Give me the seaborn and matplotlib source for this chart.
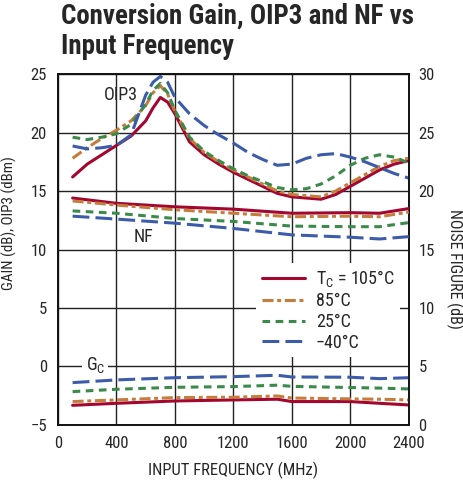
import numpy as np
import pandas as pd
import matplotlib
matplotlib.use("Agg")
import matplotlib.pyplot as plt
from matplotlib.lines import Line2D
import seaborn as sns

# ---- data ----
TEMPS = ["105", "85", "25", "-40"]
LEGEND_LABELS = ["T$_\\mathregular{C}$ = 105°C", "85°C", "25°C", "−40°C"]

FREQ_OIP3 = [100, 200, 300, 400, 500, 600, 650, 700, 750, 800, 900, 1000, 1100,
             1200, 1300, 1400, 1500, 1600, 1700, 1800, 1900, 2000, 2100, 2200, 2300, 2400]
OIP3_105 = [16.2, 17.3, 18.1, 18.9, 19.7, 21.0, 22.1, 23.0, 22.6, 21.6, 19.2, 18.1, 17.3,
            16.6, 16.0, 15.4, 14.8, 14.5, 14.4, 14.3, 14.7, 15.4, 16.1, 16.8, 17.3, 17.6]
OIP3_85 = [17.8, 18.7, 19.5, 20.2, 21.0, 22.3, 23.4, 24.0, 23.3, 21.8, 19.5, 18.3, 17.5,
           16.8, 16.2, 15.6, 15.0, 14.7, 14.6, 14.5, 15.0, 15.7, 16.4, 17.1, 17.6, 17.8]
OIP3_25 = [19.6, 19.4, 19.6, 19.9, 20.7, 22.4, 23.6, 24.2, 23.4, 21.9, 19.6, 18.4, 17.6,
           16.9, 16.3, 15.8, 15.3, 15.1, 15.2, 15.6, 16.3, 17.2, 17.8, 18.1, 17.9, 17.4]
OIP3_M40 = [18.85, 18.6, 18.7, 18.9, 19.8, 23.2, 24.3, 24.8, 24.3, 23.0, 21.6, 20.6, 19.8,
            19.1, 18.3, 17.7, 17.2, 17.3, 17.8, 18.1, 18.2, 17.9, 17.5, 17.0, 16.5, 16.1]

FREQ_NF = [100, 400, 800, 1200, 1600, 2000, 2200, 2400]
NF_105 = [19.4, 18.95, 18.65, 18.45, 18.1, 18.15, 18.1, 18.5]
NF_85 = [19.15, 18.8, 18.4, 18.1, 17.8, 17.85, 17.8, 18.2]
NF_25 = [18.3, 18.1, 17.65, 17.4, 17.0, 16.95, 16.95, 17.3]
NF_M40 = [17.85, 17.6, 17.25, 16.8, 16.25, 16.05, 15.9, 16.1]

FREQ_GC = [100, 400, 800, 1200, 1500, 1600, 2000, 2200, 2400]
GC_105 = [-3.32, -3.15, -2.95, -2.86, -2.8, -3.0, -3.0, -3.15, -3.29]
GC_85 = [-3.0, -2.86, -2.66, -2.63, -2.52, -2.7, -2.77, -2.8, -2.86]
GC_25 = [-2.15, -1.95, -1.78, -1.72, -1.6, -1.7, -1.8, -1.85, -1.92]
GC_M40 = [-1.38, -1.15, -0.96, -0.87, -0.75, -0.9, -0.92, -1.04, -0.96]


def long_df(freq, series):
    rows = []
    for t, vals in zip(TEMPS, series):
        rows += [{"freq": f, "val": v, "temp": t} for f, v in zip(freq, vals)]
    return pd.DataFrame(rows)


oip3 = long_df(FREQ_OIP3, [OIP3_105, OIP3_85, OIP3_25, OIP3_M40])
nf = long_df(FREQ_NF, [NF_105, NF_85, NF_25, NF_M40])
gc = long_df(FREQ_GC, [GC_105, GC_85, GC_25, GC_M40])

COLORS = {"105": "#A3072F", "85": "#C47D3C", "25": "#3B8A4A", "-40": "#3C5CAA"}
DASHES = {"105": "", "85": (3.6, 1.2, 1.3, 1.2), "25": (2.5, 1.8), "-40": (5.5, 2.0)}
LW = 2.2

sns.set_style("white")
FONT = ["Roboto Condensed", "Liberation Sans", "DejaVu Sans"]
plt.rcParams["font.family"] = FONT
plt.rcParams["axes.unicode_minus"] = True
plt.rcParams["mathtext.fontset"] = "custom"
plt.rcParams["mathtext.rm"] = "Roboto Condensed"

fig = plt.figure(figsize=(4.64, 4.84), dpi=100)
ax = fig.add_axes([0.125, 0.122, 0.756, 0.725])
ax2 = ax.twinx()

for d in (oip3, gc):
    sns.lineplot(data=d, x="freq", y="val", hue="temp", style="temp", palette=COLORS,
                 dashes=DASHES, hue_order=TEMPS, style_order=TEMPS, linewidth=LW,
                 legend=False, ax=ax, zorder=3)
sns.lineplot(data=nf, x="freq", y="val", hue="temp", style="temp", palette=COLORS,
             dashes=DASHES, hue_order=TEMPS, style_order=TEMPS, linewidth=LW,
             legend=False, ax=ax2, zorder=3)

ax.set_xlim(0, 2400)
ax.set_ylim(-5, 25)
ax2.set_ylim(0, 30)
ax.set_xticks(range(0, 2401, 400))
ax.set_yticks(range(-5, 26, 5))
ax2.set_yticks(range(0, 31, 5))
ax.grid(True, color="#222222", linewidth=1.0)
ax.set_axisbelow(True)
for a in (ax, ax2):
    a.tick_params(length=0, labelsize=12)
    for s in a.spines.values():
        s.set_color("#111111")
        s.set_linewidth(1.2)
ax.tick_params(axis="x", pad=8)
ax.tick_params(axis="y", pad=8)
ax2.tick_params(axis="y", pad=7)

ax.set_xlabel("INPUT FREQUENCY (MHz)", fontsize=12, labelpad=7.5)
ax.set_ylabel("GAIN (dB), OIP3 (dBm)", fontsize=10.8)
ax.yaxis.set_label_coords(-0.118, 0.575)
ax2.set_ylabel("NOISE FIGURE (dB)", fontsize=11.5, rotation=270, va="bottom")
ax2.yaxis.set_label_coords(1.105, 0.444)
ax2.set_xlabel("")

# curve labels
ax.text(431, 23.25, "OIP3", fontsize=13, ha="center", va="center", zorder=4)
ax.text(585, 11.1, "NF", fontsize=13, ha="center", va="center", zorder=4)
ax.text(255, 0.1, "G$_\\mathregular{C}$", fontsize=13, ha="center", va="center", zorder=4,
        bbox=dict(facecolor="white", edgecolor="none", pad=2.5))

handles = [Line2D([], [], color=COLORS[t], linewidth=LW,
                  dashes=DASHES[t] if DASHES[t] else (None, None)) for t in TEMPS]
handles[0].set_linestyle("-")
leg = ax2.legend(handles, LEGEND_LABELS, loc="upper left", bbox_to_anchor=(0.565, 0.4615),
                 frameon=True, fontsize=13, handlelength=2.4, handletextpad=0.6,
                 labelspacing=0.15, borderpad=0.3, borderaxespad=0)
leg.get_frame().set_edgecolor("none")
leg.get_frame().set_facecolor("white")
leg.get_frame().set_alpha(1)

fig.text(0.131, 0.995, "Conversion Gain, OIP3 and NF vs\nInput Frequency",
         fontsize=19.4, fontweight="bold", ha="left", va="top", linespacing=1.17)

fig.savefig("out.png", dpi=100)
